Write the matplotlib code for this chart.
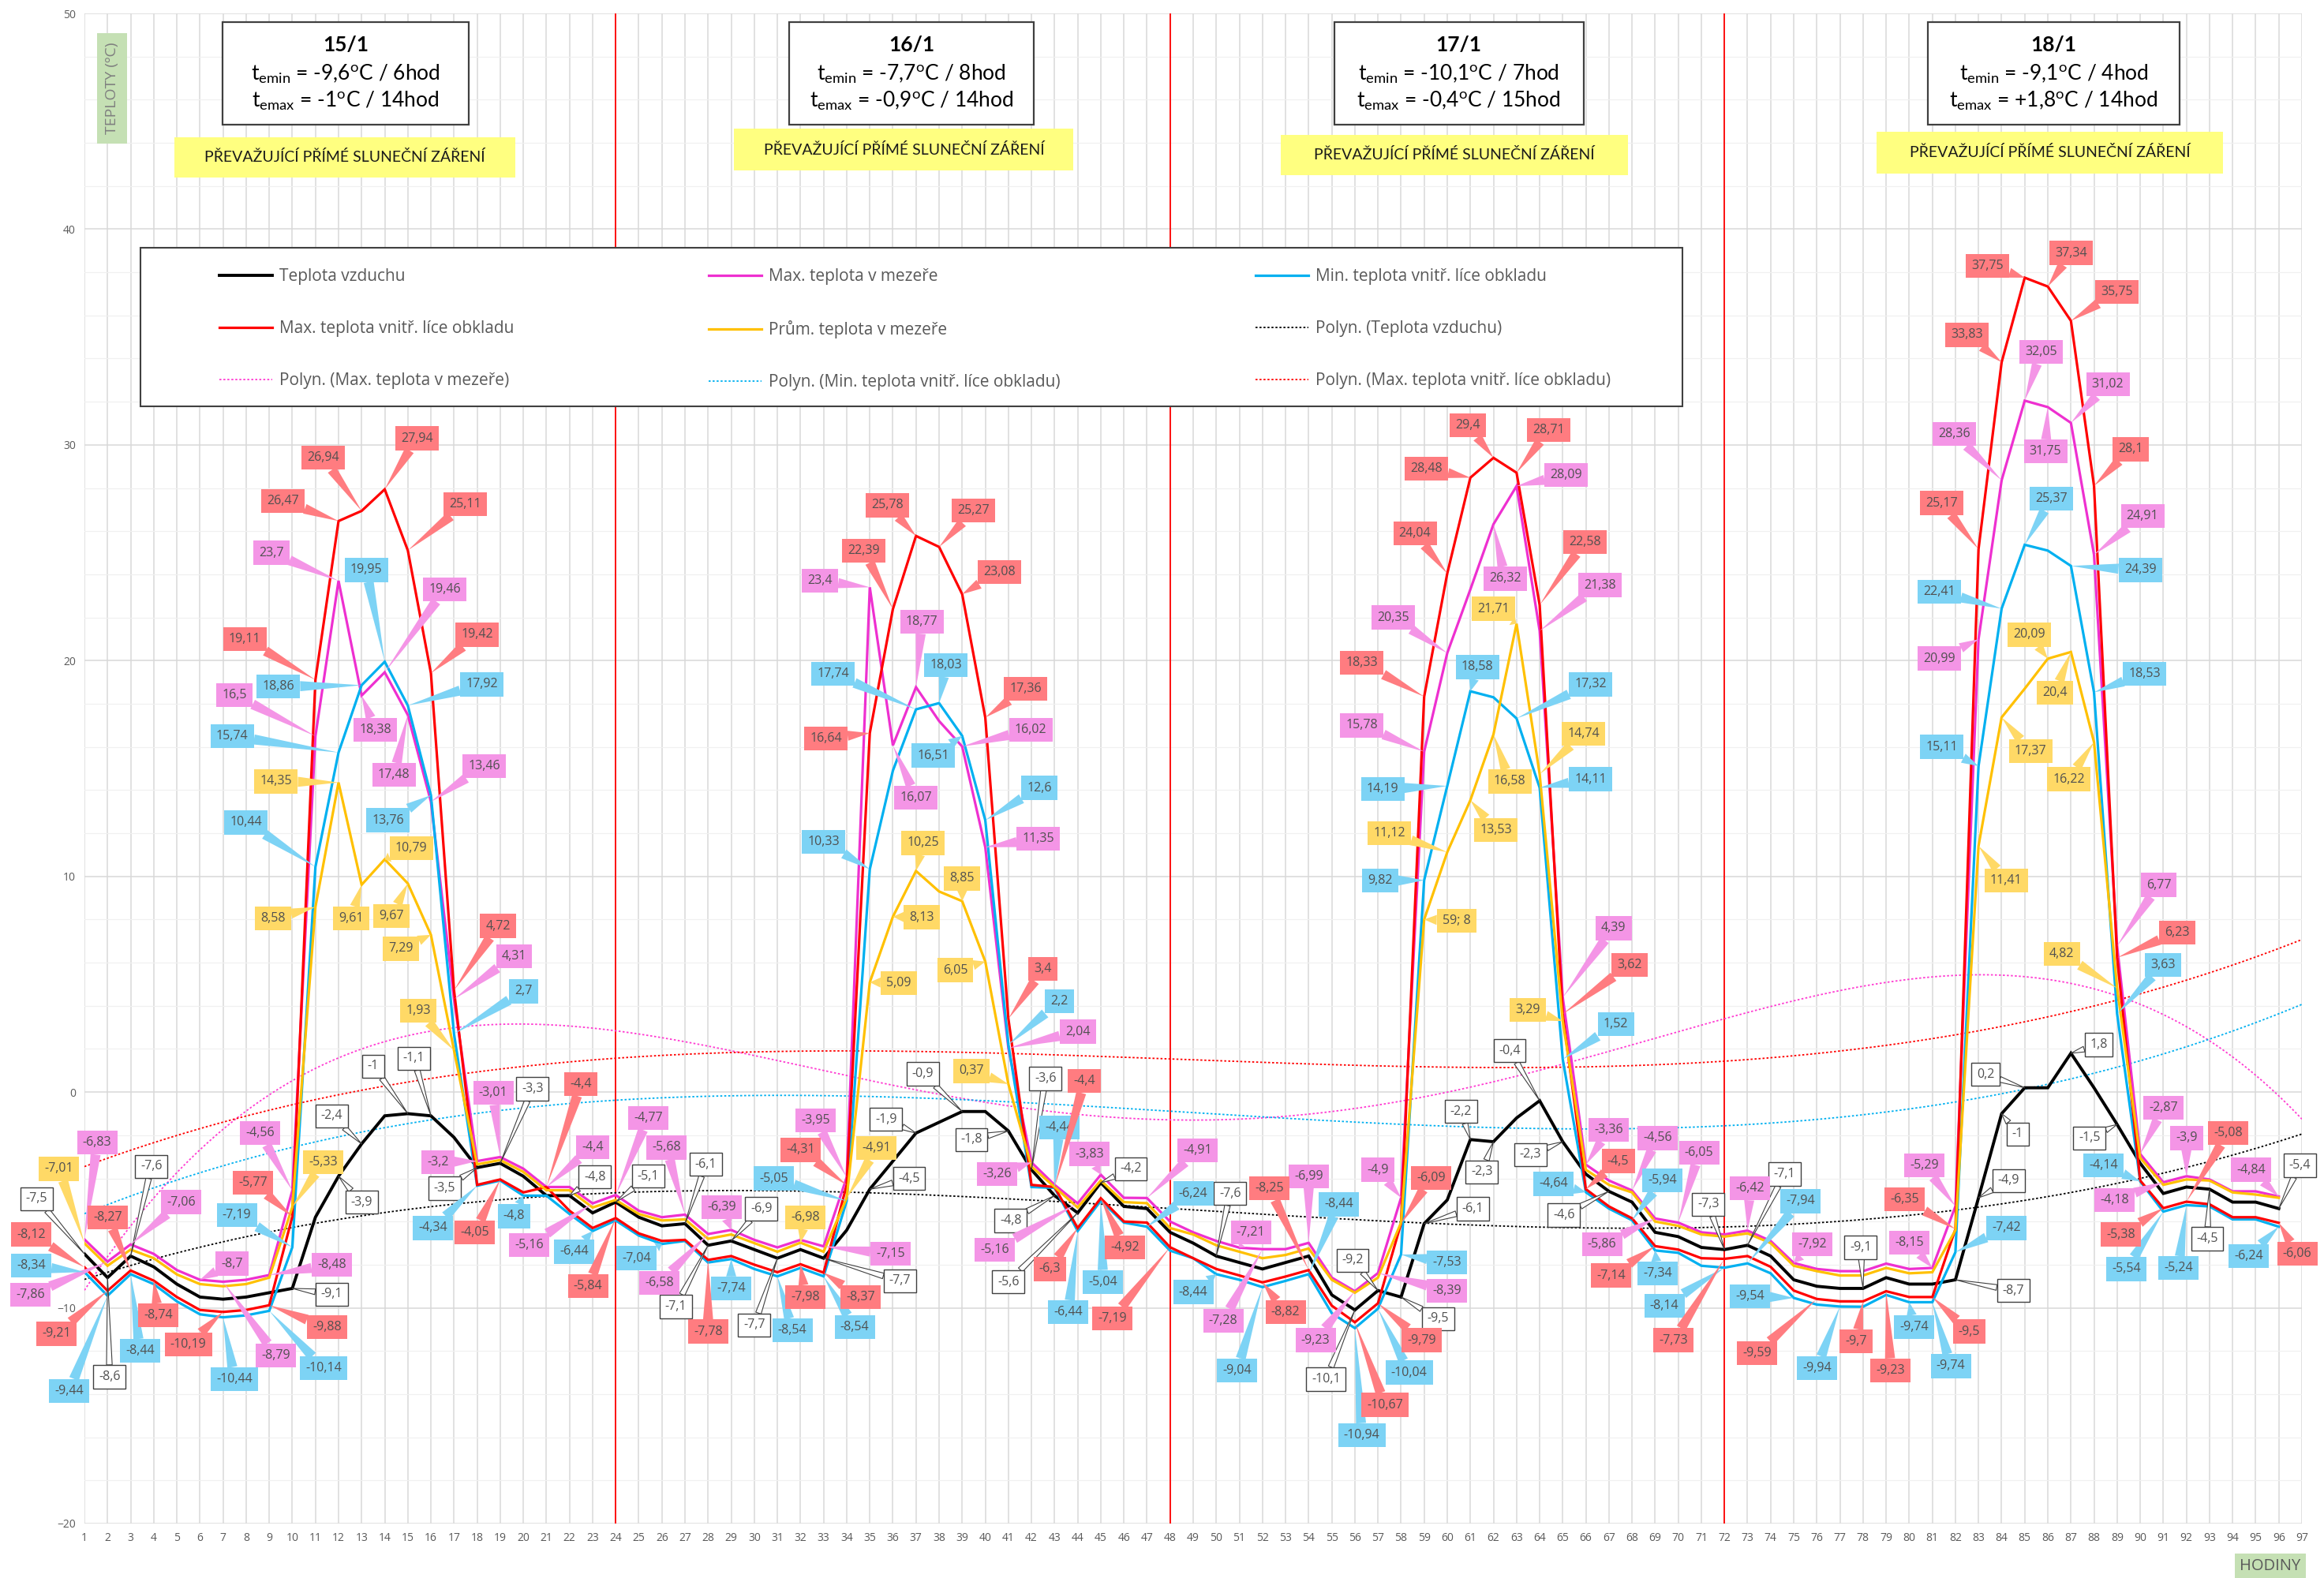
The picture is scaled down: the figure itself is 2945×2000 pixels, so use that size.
import numpy as np
import matplotlib.pyplot as plt
from matplotlib.patches import Rectangle

plt.rcParams['font.family'] = ['Open Sans', 'DejaVu Sans']

# ---- data (hodiny 1..96) ----
hours = np.arange(1, 97)

t_air = [-7.5, -8.6, -7.6, -8.1, -8.9, -9.5, -9.6, -9.5, -9.3, -9.1,
         -5.8, -3.9, -2.4, -1.1, -1.0, -1.1, -2.1, -3.5, -3.3, -3.9,
         -4.8, -4.8, -5.6, -5.1, -5.8, -6.2, -6.1, -7.1, -6.9, -7.3,
         -7.7, -7.3, -7.7, -6.4, -4.5, -3.2, -1.9, -1.4, -0.9, -0.9,
         -1.8, -3.6, -4.8, -5.6, -4.2, -5.3, -5.4, -6.5, -7.0, -7.6,
         -7.9, -8.2, -7.9, -7.6, -9.4, -10.1, -9.2, -9.5, -6.1, -5.0,
         -2.2, -2.3, -1.2, -0.4, -2.3, -3.8, -4.6, -5.1, -6.5, -6.7,
         -7.2, -7.3, -7.1, -7.6, -8.7, -9.0, -9.1, -9.1, -8.6, -8.9,
         -8.9, -8.7, -4.9, -1.0, 0.2, 0.2, 1.8, 0.2, -1.5, -3.3,
         -4.7, -4.4, -4.5, -5.1, -5.1, -5.4]

t_max_obklad = [-8.12, -9.21, -8.27, -8.74, -9.5, -10.1, -10.19, -10.1, -9.88, -5.77,
                19.11, 26.47, 26.94, 27.94, 25.11, 19.42, 4.72, -4.3, -4.05, -4.65,
                -4.4, -5.5, -6.3, -5.84, -6.55, -6.9, -6.85, -7.78, -7.6, -8.0,
                -8.35, -7.98, -8.37, -4.31, 16.64, 22.39, 25.78, 25.27, 23.08, 17.36,
                3.4, -4.3, -4.4, -6.3, -4.92, -6.0, -6.05, -7.19, -7.7, -8.2,
                -8.5, -8.82, -8.55, -8.25, -9.9, -10.67, -9.79, -6.09, 18.33, 24.04,
                28.48, 29.4, 28.71, 22.58, 3.62, -4.5, -5.3, -5.85, -7.14, -7.3,
                -7.7, -7.73, -7.6, -8.1, -9.2, -9.59, -9.7, -9.7, -9.23, -9.5,
                -9.5, -6.35, 25.17, 33.83, 37.75, 37.34, 35.75, 28.1, 6.23, -4.1,
                -5.38, -5.08, -5.2, -5.8, -5.8, -6.06]

t_max_mezera = [-6.83, -7.86, -7.06, -7.5, -8.25, -8.7, -8.79, -8.7, -8.48, -4.56,
                16.5, 23.7, 18.38, 19.46, 17.48, 13.46, 4.31, -3.2, -3.01, -3.55,
                -4.4, -4.4, -5.16, -4.77, -5.5, -5.8, -5.68, -6.58, -6.39, -6.85,
                -7.2, -6.85, -7.15, -3.95, 23.4, 16.07, 18.77, 17.2, 16.02, 11.35,
                2.04, -3.26, -4.3, -5.16, -3.83, -4.9, -4.91, -6.0, -6.5, -6.9,
                -7.21, -7.28, -7.28, -6.99, -8.6, -9.23, -8.39, -4.9, 15.78, 20.35,
                23.3, 26.32, 28.09, 21.38, 4.39, -3.36, -4.1, -4.56, -5.86, -6.05,
                -6.5, -6.6, -6.42, -6.9, -7.92, -8.2, -8.3, -8.3, -7.95, -8.2,
                -8.15, -5.29, 20.99, 28.36, 32.05, 31.75, 31.02, 24.91, 6.77, -2.87,
                -4.18, -3.9, -4.05, -4.6, -4.6, -4.84]

t_avg_mezera = [-7.01, -8.05, -7.3, -7.7, -8.45, -8.9, -9.0, -8.9, -8.6, -5.33,
                8.58, 14.35, 9.61, 10.79, 9.67, 7.29, 1.93, -3.35, -3.15, -3.7,
                -4.55, -4.55, -5.35, -5.0, -5.65, -5.95, -5.9, -6.8, -6.6, -7.0,
                -7.4, -6.98, -7.4, -4.91, 5.09, 8.13, 10.25, 9.3, 8.85, 6.05,
                0.37, -3.45, -4.4, -5.35, -4.1, -5.1, -5.15, -6.3, -6.6, -7.1,
                -7.4, -7.7, -7.55, -7.25, -8.7, -9.3, -8.6, -6.05, 8.0, 11.12,
                13.53, 16.58, 21.71, 14.74, 3.29, -3.6, -4.3, -4.65, -6.0, -6.2,
                -6.6, -6.7, -6.55, -7.0, -8.05, -8.3, -8.5, -8.5, -8.15, -8.4,
                -8.35, -6.4, 11.41, 17.37, 18.7, 20.09, 20.4, 16.22, 4.82, -3.05,
                -4.3, -4.05, -4.1, -4.65, -4.75, -4.9]

t_min_obklad = [-8.34, -9.44, -8.44, -8.9, -9.7, -10.3, -10.44, -10.35, -10.14, -7.19,
                10.44, 15.74, 18.86, 19.95, 17.92, 13.76, 2.7, -4.34, -4.1, -4.8,
                -4.8, -5.65, -6.44, -5.95, -6.65, -7.04, -6.9, -7.9, -7.74, -8.2,
                -8.54, -8.15, -8.54, -5.05, 10.33, 14.9, 17.74, 18.03, 16.51, 12.6,
                2.2, -4.4, -4.44, -6.44, -5.04, -6.05, -6.24, -7.35, -7.7, -8.44,
                -8.7, -9.04, -8.75, -8.44, -10.25, -10.94, -10.04, -7.53, 9.82, 14.19,
                18.58, 18.3, 17.32, 14.11, 1.52, -4.64, -5.4, -5.94, -7.34, -7.45,
                -8.05, -8.14, -7.94, -8.4, -9.54, -9.85, -9.94, -9.95, -9.4, -9.74,
                -9.74, -7.42, 15.11, 22.41, 25.37, 25.1, 24.39, 18.53, 3.63, -4.14,
                -5.54, -5.24, -5.3, -5.9, -5.9, -6.24]

days = ['15/1', '16/1', '17/1', '18/1']
temin = ['-9,6', '-7,7', '-10,1', '-9,1']
temin_hod = ['6', '8', '7', '4']
temax = ['-1', '-0,9', '-0,4', '+1,8']
temax_hod = ['14', '14', '15', '14']
day_bounds = [24, 48, 72]

# ---- label placement: hour -> (label x, label y) ----
t_air_lbl = {1: (-1.07, -4.94), 2: (2.09, -13.2), 3: (3.9, -3.45), 10: (11.7, -9.37),
             12: (13.0, -5.1), 13: (11.7, -1.1), 15: (13.5, 1.2), 16: (15.25, 1.57),
             18: (16.6, -4.46), 19: (20.4, 0.15), 22: (23.1, -3.93), 24: (25.4, -3.9),
             27: (27.9, -3.35), 28: (26.6, -9.94), 29: (30.3, -5.4), 31: (30.0, -10.8),
             33: (36.3, -8.75), 35: (36.7, -4.0), 37: (35.7, -1.26), 39: (37.3, 0.84),
             41: (39.4, -2.2), 42: (42.6, 0.63), 43: (41.1, -5.96), 44: (41.0, -8.8),
             45: (46.3, -3.56), 50: (50.6, -4.7), 56: (54.75, -13.3), 57: (55.9, -7.8),
             58: (59.6, -10.5), 59: (61.1, -5.4), 61: (60.6, -0.9), 62: (61.5, -3.7),
             64: (62.7, 1.92), 65: (63.6, -2.9), 67: (65.05, -5.7), 72: (71.3, -5.2),
             73: (74.6, -3.8), 78: (77.9, -7.2), 82: (84.5, -9.2), 83: (84.3, -4.1),
             84: (84.7, -1.95), 85: (83.3, 0.82), 87: (88.2, 2.2), 89: (87.8, -2.13),
             93: (92.9, -6.8), 96: (96.9, -3.4)}

t_max_obklad_lbl = {1: (-1.3, -6.6), 2: (-0.2, -11.2), 3: (2.0, -5.8), 4: (4.2, -10.35),
                    7: (5.5, -11.7), 9: (11.5, -10.9), 10: (8.3, -4.2), 11: (7.94, 21.0),
                    12: (9.6, 27.4), 13: (11.34, 29.4), 14: (15.4, 30.3), 15: (17.5, 27.25),
                    16: (18.0, 21.2), 17: (18.9, 7.7), 19: (17.9, -6.5), 21: (22.5, 0.38),
                    24: (22.8, -9.0), 28: (28.0, -11.1), 32: (32.2, -9.5), 33: (34.6, -9.5),
                    34: (32.0, -2.68), 35: (33.1, 16.4), 36: (34.75, 25.1), 37: (35.75, 27.2),
                    38: (39.5, 26.95), 39: (40.6, 24.1), 40: (41.75, 18.7), 41: (42.5, 5.7),
                    43: (44.3, 0.52), 44: (42.8, -8.2), 45: (46.05, -7.2), 48: (45.5, -10.5),
                    52: (53.0, -10.2), 54: (52.3, -4.46), 56: (57.3, -14.5), 57: (58.9, -11.5),
                    58: (59.3, -3.97), 59: (56.3, 19.9), 60: (58.6, 25.9), 61: (59.1, 28.9),
                    62: (60.9, 30.9), 63: (64.4, 30.7), 64: (65.96, 25.5), 65: (67.9, 5.9),
                    66: (67.4, -3.2), 69: (67.1, -8.5), 72: (69.8, -11.5), 76: (73.4, -12.1),
                    78: (77.7, -11.55), 79: (79.2, -12.9), 81: (82.6, -11.1), 82: (79.8, -4.96),
                    83: (81.4, 27.3), 84: (82.5, 35.1), 85: (83.4, 38.3), 86: (87.0, 38.9),
                    87: (89.0, 37.1), 88: (89.6, 29.8), 89: (91.6, 7.4), 91: (89.15, -6.6),
                    92: (93.8, -1.9), 96: (96.8, -7.5)}

t_max_mezera_lbl = {1: (1.55, -2.34), 2: (-1.35, -9.4), 3: (5.2, -5.1), 6: (7.4, -7.95),
                    7: (9.3, -12.2), 9: (11.7, -8.0), 10: (8.6, -1.9), 11: (7.5, 18.4),
                    12: (9.1, 25.0), 13: (13.6, 16.8), 14: (16.6, 23.3), 15: (14.4, 14.7),
                    16: (18.3, 15.1), 17: (19.6, 6.3), 18: (16.3, -3.24), 19: (18.7, -0.04),
                    21: (23.0, -2.55), 23: (20.25, -7.1), 24: (25.4, -1.2), 27: (26.2, -2.57),
                    28: (25.9, -8.85), 29: (28.6, -5.33), 33: (35.9, -7.5), 34: (32.65, -1.3),
                    35: (32.85, 23.7), 36: (37.0, 13.65), 37: (37.25, 21.8), 39: (41.97, 16.8),
                    40: (42.3, 11.75), 41: (44.0, 2.8), 42: (40.5, -3.8), 44: (40.4, -7.3),
                    45: (44.5, -2.87), 47: (49.2, -2.7), 51: (51.5, -6.5), 52: (50.3, -10.6),
                    54: (54.0, -3.9), 56: (54.3, -11.5), 57: (60.0, -9.2), 58: (57.0, -3.6),
                    59: (56.3, 17.0), 60: (57.65, 22.0), 62: (62.5, 23.8), 63: (65.15, 28.6),
                    64: (66.6, 23.5), 65: (67.2, 7.6), 66: (67.0, -1.74), 68: (69.1, -2.13),
                    69: (66.7, -7.05), 70: (70.9, -2.82), 73: (73.1, -4.46), 75: (75.8, -7.05),
                    81: (80.0, -6.97), 82: (80.65, -3.4), 83: (81.3, 20.1), 84: (81.96, 30.5),
                    85: (85.7, 34.3), 86: (85.9, 29.7), 87: (88.6, 32.8), 88: (90.1, 26.7),
                    89: (90.8, 9.6), 90: (91.0, -0.73), 91: (88.9, -5.0), 92: (92.0, -2.13),
                    96: (94.8, -3.6)}

t_avg_mezera_lbl = {1: (-0.1, -3.56), 10: (11.35, -3.24), 11: (9.16, 8.05), 12: (9.3, 14.4),
                    13: (12.55, 8.05), 14: (15.15, 11.3), 15: (14.3, 8.16), 16: (14.7, 6.65),
                    17: (15.45, 3.77), 32: (32.2, -5.8), 34: (35.3, -2.6), 35: (36.25, 5.06),
                    36: (37.25, 8.1), 37: (37.3, 11.55), 39: (39.0, 9.9), 40: (38.7, 5.65),
                    41: (39.4, 0.98), 59: (60.4, 7.95), 60: (57.5, 12.0), 61: (62.1, 12.15),
                    62: (62.7, 14.4), 63: (62.0, 22.4), 64: (65.9, 16.6), 65: (63.5, 3.8),
                    83: (84.2, 9.8), 84: (85.25, 15.8), 86: (85.2, 21.2), 87: (86.3, 18.5),
                    88: (86.9, 14.5), 89: (86.6, 6.4)}

t_min_obklad_lbl = {1: (-1.3, -8.05), 2: (0.34, -13.85), 3: (3.4, -12.0), 7: (7.5, -13.3),
                    9: (11.35, -12.8), 10: (7.6, -5.7), 11: (8.0, 12.5), 12: (7.4, 16.5),
                    13: (9.4, 18.8), 14: (13.2, 24.2), 15: (18.2, 18.9), 16: (14.15, 12.6),
                    17: (20.0, 4.67), 18: (16.1, -6.3), 20: (19.6, -5.75), 23: (22.2, -7.4),
                    26: (24.9, -7.7), 29: (29.0, -9.1), 31: (31.65, -11.05), 33: (34.35, -10.9),
                    34: (30.85, -4.0), 35: (33.0, 11.6), 37: (33.4, 19.4), 38: (38.3, 19.8),
                    39: (37.75, 15.6), 40: (42.35, 14.1), 41: (43.2, 4.2), 43: (43.2, -1.63),
                    44: (43.6, -10.2), 45: (45.1, -8.8), 47: (49.0, -4.7), 50: (49.0, -9.27),
                    52: (50.9, -12.9), 54: (55.3, -5.2), 56: (56.3, -15.9), 57: (58.35, -13.0),
                    58: (60.0, -7.9), 59: (57.1, 9.8), 60: (57.2, 14.05), 61: (61.3, 19.7),
                    63: (66.2, 18.9), 64: (66.2, 14.5), 65: (67.3, 3.14), 66: (64.6, -4.25),
                    68: (69.3, -4.1), 69: (69.1, -8.4), 72: (69.4, -9.9), 73: (75.3, -5.06),
                    75: (73.1, -9.46), 77: (76.0, -12.8), 80: (80.2, -10.9), 81: (81.8, -12.7),
                    82: (84.2, -6.3), 83: (81.4, 16.0), 84: (81.3, 23.2), 85: (86.15, 27.5),
                    87: (90.0, 24.2), 88: (90.2, 19.4), 89: (91.0, 5.9), 90: (88.4, -3.4),
                    91: (89.4, -8.2), 92: (91.65, -8.16), 96: (94.7, -7.6)}

text_override = {('avg', 59): '59; 8'}


def fmt(v):
    s = ('%.2f' % v).rstrip('0').rstrip('.')
    return s.replace('.', ',')


W, H = 2945, 2000
fig = plt.figure(figsize=(W / 100, H / 100), dpi=100)
ax = fig.add_axes([107 / W, 69 / H, 2810 / W, 1914 / H])

ax.set_xlim(1, 97)
ax.set_ylim(-20, 50)
ax.set_xticks(np.arange(1, 98))
ax.set_yticks(np.arange(-20, 51, 10))
ax.set_yticks(np.arange(-20, 51, 2), minor=True)
ax.grid(which='major', color='#D9D9D9', lw=1.1)
ax.grid(which='minor', axis='y', color='#F0F0F0', lw=0.9)
ax.set_axisbelow(True)
ax.tick_params(which='both', length=0, labelsize=10, labelcolor='#595959', pad=8)
for sp in ax.spines.values():
    sp.set_visible(False)

for x in day_bounds:
    ax.axvline(x, color='#FF0000', lw=1.3, zorder=1.5)

MAG = '#EE30D0'
CYAN = '#00B0F0'
RED = '#FF0000'
ORANGE = '#FFC000'

# (key, values, name, line colour, width, label fill, labels)
series = [
    ('air', t_air, 'Teplota vzduchu', '#000000', 2.8, 'white', t_air_lbl),
    ('mezmax', t_max_mezera, 'Max. teplota v mezeře', MAG, 2.3, '#F495E6', t_max_mezera_lbl),
    ('obkmin', t_min_obklad, 'Min. teplota vnitř. líce obkladu', CYAN, 2.3, '#7DD3F5', t_min_obklad_lbl),
    ('obkmax', t_max_obklad, 'Max. teplota vnitř. líce obkladu', RED, 2.3, '#FF7C80', t_max_obklad_lbl),
    ('avg', t_avg_mezera, 'Prům. teplota v mezeře', ORANGE, 2.3, '#FFD966', t_avg_mezera_lbl),
]

handles = {}
for key, vals, name, col, lw, fill, lbls in series:
    ln, = ax.plot(hours, vals, color=col, lw=lw, zorder=3, solid_joinstyle='miter')
    handles[name] = ln

# polynomial trendlines
trends = [
    (t_air, 'Polyn. (Teplota vzduchu)', '#000000', 3),
    (t_max_mezera, 'Polyn. (Max. teplota v mezeře)', '#FF3CD2', 4),
    (t_min_obklad, 'Polyn. (Min. teplota vnitř. líce obkladu)', CYAN, 3),
    (t_max_obklad, 'Polyn. (Max. teplota vnitř. líce obkladu)', RED, 3),
]
xs = np.linspace(1, 97, 400)
for vals, name, col, deg in trends:
    coef = np.polyfit(hours, vals, deg)
    ln, = ax.plot(xs, np.polyval(coef, xs), color=col, lw=1.3,
                  linestyle=(0, (1.4, 1.4)), zorder=2.5)
    handles[name] = ln

# data labels
for key, vals, name, col, lw, fill, lbls in series:
    for h, (lx, ly) in lbls.items():
        v = vals[h - 1]
        txt = text_override.get((key, h), fmt(v))
        if key == 'air':
            bb = dict(boxstyle='square,pad=0.42', fc='white', ec='#404040', lw=1.0)
            ap = dict(arrowstyle='wedge,tail_width=0.45', fc='white', ec='#404040',
                      lw=0.8, shrinkA=0, shrinkB=0)
        else:
            bb = dict(boxstyle='square,pad=0.45', fc=fill, ec='none')
            ap = dict(arrowstyle='wedge,tail_width=0.8', fc=fill, ec='none',
                      shrinkA=0, shrinkB=0)
        ax.annotate(txt, xy=(h, v), xytext=(lx, ly), textcoords='data',
                    ha='center', va='center', fontsize=11.5, color='#505050',
                    bbox=bb, arrowprops=ap, annotation_clip=False, zorder=5)

# legend: frame drawn separately, entries laid out inside it
ax.add_patch(Rectangle((0.0253, 0.7398), 0.6953, 0.105, transform=ax.transAxes,
                       fc='white', ec='#404040', lw=1.5, zorder=4))
order = ['Teplota vzduchu', 'Max. teplota vnitř. líce obkladu', 'Polyn. (Max. teplota v mezeře)',
         'Max. teplota v mezeře', 'Prům. teplota v mezeře', 'Polyn. (Min. teplota vnitř. líce obkladu)',
         'Min. teplota vnitř. líce obkladu', 'Polyn. (Teplota vzduchu)', 'Polyn. (Max. teplota vnitř. líce obkladu)']
leg = ax.legend([handles[n] for n in order], order, ncol=3, mode='expand',
                loc='center', bbox_to_anchor=(0.0608, 0.7406, 0.6275, 0.1),
                borderaxespad=0, fontsize=15, labelcolor='#595959',
                handlelength=3.2, handletextpad=0.45, labelspacing=2.17,
                borderpad=0, frameon=False)
leg.set_zorder(4.5)

# day header boxes
hdr_x = [(6.97, 17.64), (31.5, 42.1), (55.1, 65.9), (80.8, 91.7)]
yel_x = [(4.88, 19.66), (29.13, 43.82), (52.8, 67.83), (78.6, 93.6)]
yel_y = [(42.39, 44.27), (42.72, 44.66), (42.52, 44.37), (42.59, 44.51)]
for i in range(4):
    x0, x1 = hdr_x[i]
    ax.add_patch(Rectangle((x0, 44.83), x1 - x0, 49.6 - 44.83, fc='white',
                           ec='#404040', lw=1.6, zorder=6))
    cx = (x0 + x1) / 2
    ax.text(cx, 48.55, days[i], ha='center', va='center', fontsize=19,
            fontweight='bold', family='Lato', zorder=7)
    ax.text(cx, 47.2, r'$\mathregular{t_{emin}}$ = ' + temin[i] + r'$\mathregular{^{o}}$C / '
            + temin_hod[i] + 'hod', ha='center', va='center', fontsize=19, family='Lato', zorder=7)
    ax.text(cx, 45.95, r'$\mathregular{t_{emax}}$ = ' + temax[i] + r'$\mathregular{^{o}}$C / '
            + temax_hod[i] + 'hod', ha='center', va='center', fontsize=19, family='Lato', zorder=7)
    y0, y1 = yel_y[i]
    x0, x1 = yel_x[i]
    ax.add_patch(Rectangle((x0, y0), x1 - x0, y1 - y0, fc='#FFFF80', ec='none', zorder=6))
    ax.text((x0 + x1) / 2, (y0 + y1) / 2, 'PŘEVAŽUJÍCÍ PŘÍMÉ SLUNEČNÍ ZÁŘENÍ', ha='center',
            va='center', fontsize=14, family='Lato', color='#1A1A1A', zorder=7)

# axis titles
ax.add_patch(Rectangle((1.55, 43.97), 1.3, 5.13, fc='#C5E0B4', ec='none', zorder=6))
ax.text(2.2, 46.53, 'TEPLOTY (ºC)', rotation=90, ha='center', va='center', fontsize=14,
        color='#7F7F7F', zorder=7)
fig.text(2877 / W, 15 / H, 'HODINY', ha='center', va='center', fontsize=14.5, color='#595959',
         bbox=dict(boxstyle='square,pad=0.3', fc='#C5E0B4', ec='none'))

fig.savefig('out.png', dpi=100)
